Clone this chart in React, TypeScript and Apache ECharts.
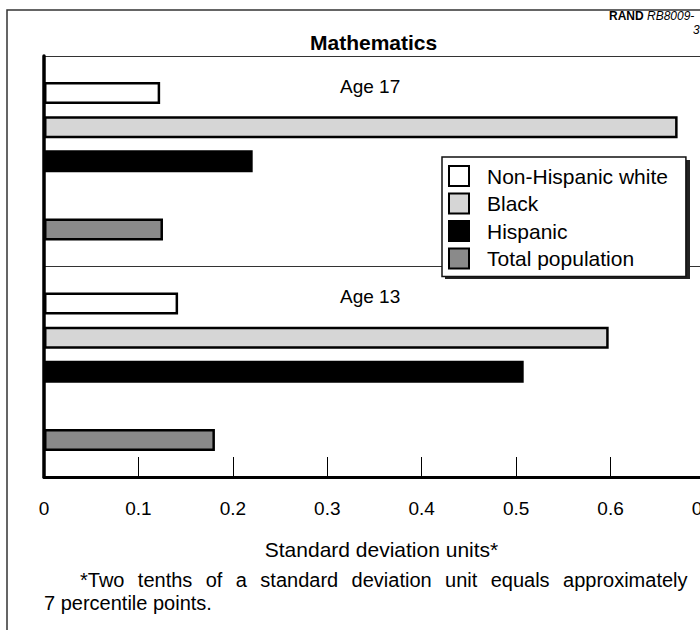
import React, { useEffect, useRef } from "react";
import * as echarts from "echarts";

const ageGroups = ["Age 17", "Age 13"];
const nonHispanicWhite = [0.123, 0.142];
const black = [0.671, 0.598];
const hispanic = [0.221, 0.508];
const totalPopulation = [0.126, 0.181];
const legendNames = ["Non-Hispanic white", "Black", "Hispanic", "Total population"];
const xMin = 0;
const xMax = 0.7;
const xInterval = 0.1;
const chartTitle = "Mathematics";
const xAxisName = "Standard deviation units*";
const footnoteLine1 = "*Two tenths of a standard deviation unit equals approximately";
const footnoteLine2 = "7 percentile points.";
const sourceId = "RB8009-";
const sourceIdLine2 = "3";

const FONT = "'Liberation Sans', Arial, Helvetica, sans-serif";

export default function App() {
  const ref = useRef<HTMLDivElement>(null);
  useEffect(() => {
    if (!ref.current) return;
    const chart = echarts.init(ref.current, undefined, { renderer: "svg" });
    const border = { borderColor: "#000", borderWidth: 2.5 };
    const mk = (name: string, data: (number | null)[], color: string) => ({
      name,
      type: "bar",
      data,
      barWidth: 22,
      barGap: "55%",
      itemStyle: { color, ...border },
      z: 2,
    });
    // justified first footnote line: widen the word spaces
    const justified = footnoteLine1.split(" ").join("{s| }");
    chart.setOption({
      animation: false,
      textStyle: { fontFamily: FONT },
      title: {
        text: chartTitle,
        left: 310,
        top: 32,
        padding: 0,
        textStyle: { fontFamily: FONT, fontSize: 21, fontWeight: "bold", color: "#000" },
      },
      legend: {
        data: legendNames,
        orient: "vertical",
        left: 442,
        top: 157,
        itemWidth: 20,
        itemHeight: 20,
        itemGap: 5.5,
        padding: [8, 18, 7, 6],
        backgroundColor: "#fff",
        borderColor: "#111",
        borderWidth: 1.5,
        icon: "rect",
        z: 10,
        textStyle: {
          fontFamily: FONT,
          fontSize: 21,
          color: "#000",
          padding: [0, 0, 0, 13],
        },
      },
      grid: { left: 44, top: 56, width: 661, height: 421, containLabel: false },
      xAxis: {
        type: "value",
        min: xMin,
        max: xMax,
        interval: xInterval,
        name: xAxisName,
        nameLocation: "middle",
        nameGap: 62,
        nameTextStyle: { fontFamily: FONT, fontSize: 21, color: "#000", padding: [0, 0, 0, 14] },
        axisLine: { show: true, lineStyle: { color: "#000", width: 3 } },
        axisTick: { show: true, inside: true, length: 20, lineStyle: { color: "#000", width: 1 } },
        axisLabel: { fontFamily: FONT, fontSize: 19, color: "#000", margin: 22 },
        splitLine: { show: false },
      },
      yAxis: {
        type: "category",
        data: ageGroups,
        inverse: true,
        axisLine: { show: true, lineStyle: { color: "#000", width: 3.5 } },
        axisTick: { show: false },
        splitLine: { show: true, lineStyle: { color: "#333", width: 1 } },
        axisLabel: {
          show: true,
          interval: 0,
          hideOverlap: false,
          inside: true,
          margin: 296,
          fontFamily: FONT,
          fontSize: 19,
          color: "#000",
          verticalAlign: "middle",
          lineHeight: 150,
          formatter: (v: string) => v + "\n ",
        },
      },
      series: [
        mk(legendNames[0], nonHispanicWhite, "#ffffff"),
        mk(legendNames[1], black, "#d6d6d6"),
        mk(legendNames[2], hispanic, "#000000"),
        mk("gap", [null, null], "transparent"),
        mk(legendNames[3], totalPopulation, "#8a8a8a"),
      ],
      graphic: [
        {
          type: "rect",
          shape: { x: 7, y: 10, width: 900, height: 800 },
          style: { fill: "none", stroke: "#333", lineWidth: 1.5 },
          z: 0,
          silent: true,
        },
        {
          type: "rect",
          shape: { x: 445, y: 160, width: 245, height: 119 },
          style: { fill: "#222" },
          z: 8,
          silent: true,
        },
        {
          type: "text",
          x: 609,
          y: 10,
          style: {
            text: "{b|RAND} {i|" + sourceId + "}",
            rich: {
              b: { fontFamily: FONT, fontSize: 12, fontWeight: "bold", fill: "#000" },
              i: { fontFamily: FONT, fontSize: 12, fontStyle: "italic", fill: "#000" },
            },
          },
        },
        {
          type: "text",
          x: 693,
          y: 24,
          style: { text: sourceIdLine2, fontFamily: FONT, fontSize: 12, fontStyle: "italic", fill: "#000" },
        },
        {
          type: "text",
          x: 80,
          y: 570,
          style: {
            text: justified,
            fontFamily: FONT,
            fontSize: 20,
            fill: "#000",
            rich: { s: { width: 13.4, fontFamily: FONT, fontSize: 20 } },
          },
        },
        {
          type: "text",
          x: 44,
          y: 593,
          style: { text: footnoteLine2, fontFamily: FONT, fontSize: 20, fill: "#000" },
        },
      ],
    });
    return () => chart.dispose();
  }, []);
  return (
    <div style={{ position: "fixed", left: 0, top: 0, width: 700, height: 630, overflow: "hidden", background: "#fff" }}>
      <div ref={ref} style={{ width: 760, height: 630 }} />
    </div>
  );
}
